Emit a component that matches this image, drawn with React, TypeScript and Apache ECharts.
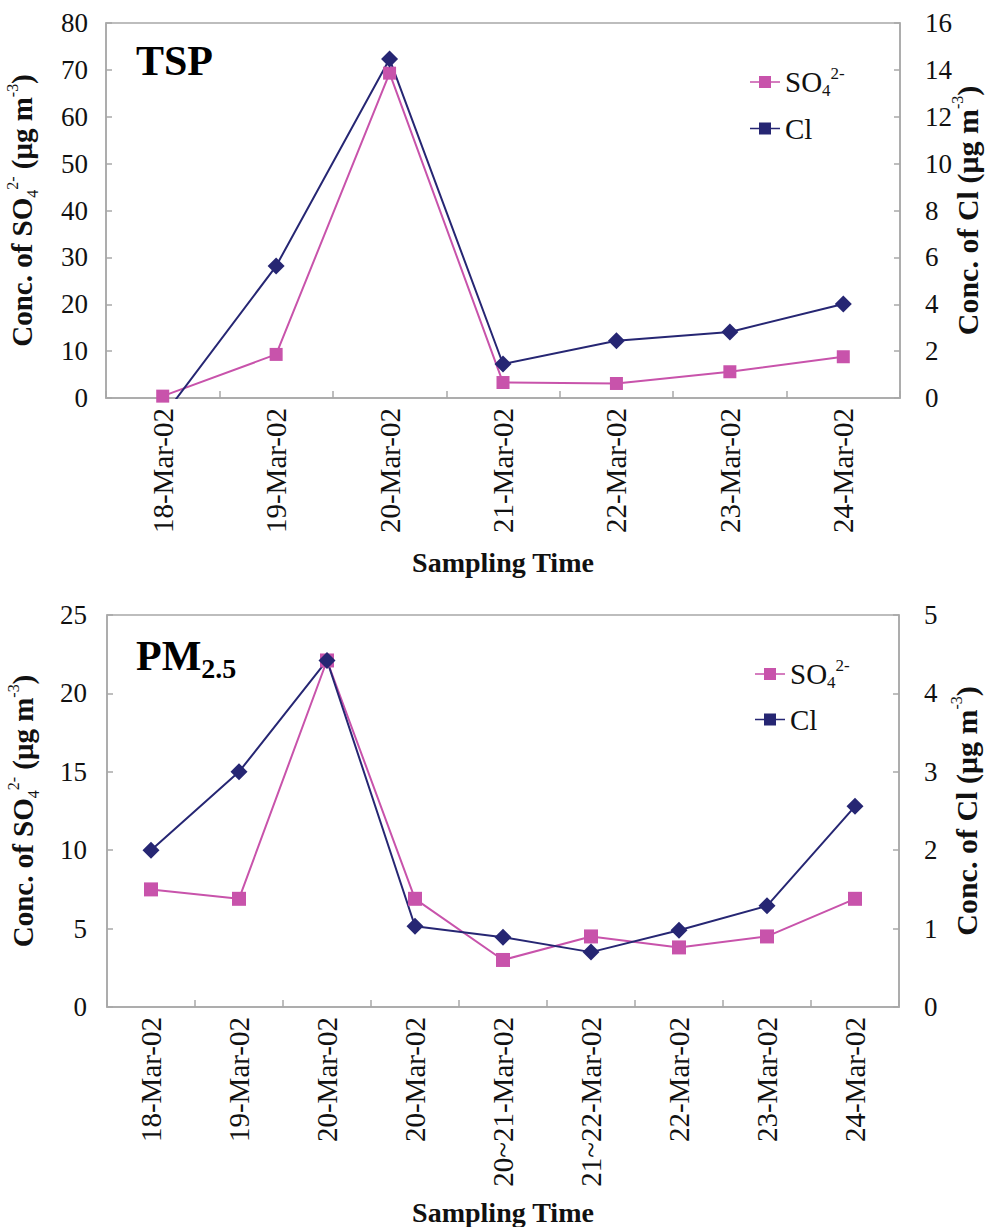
import React, { useEffect, useRef } from "react";
import * as echarts from "echarts";

const categoriesTSP = ["18-Mar-02", "19-Mar-02", "20-Mar-02", "21-Mar-02", "22-Mar-02", "23-Mar-02", "24-Mar-02"];
const so4TSP = [0.4, 9.3, 69.3, 3.3, 3.1, 5.6, 8.8];
const clTSP = [-0.8, 5.63, 14.46, 1.45, 2.44, 2.82, 4.01];

const categoriesPM = [
  "18-Mar-02", "19-Mar-02", "20-Mar-02", "20-Mar-02", "20~21-Mar-02",
  "21~22-Mar-02", "22-Mar-02", "23-Mar-02", "24-Mar-02",
];
const so4PM = [7.5, 6.9, 22.1, 6.9, 3.0, 4.5, 3.8, 4.5, 6.9];
const clPM = [2.0, 3.0, 4.42, 1.03, 0.89, 0.7, 0.98, 1.29, 2.56];

const tspLeftRange = [0, 80, 10];
const tspRightRange = [0, 16, 2];
const pmLeftRange = [0, 25, 5];
const pmRightRange = [0, 5, 1];

const FONT = "'Liberation Serif', 'Times New Roman', serif";
const C_SO4 = "#C853AB";
const C_CL = "#262673";
const GRAY = "#A8A8A8";
const TXT = "#111111";

const legendIcon = "path://M0,5.2h30v1.6h-30z M9,0h12v12h-12z";

function makeNameRich(size: number) {
  return {
    b: { fontFamily: FONT, fontSize: size, fontWeight: "bold", color: TXT, lineHeight: 36 },
    sub: { fontFamily: FONT, fontSize: 16, fontWeight: "normal", color: TXT, lineHeight: 16, verticalAlign: "bottom" },
    sup: { fontFamily: FONT, fontSize: 16, fontWeight: "normal", color: TXT, lineHeight: 16, verticalAlign: "top" },
  };
}

const legendRich = {
  t: { fontFamily: FONT, fontSize: 29, color: TXT, lineHeight: 34 },
  sub: { fontFamily: FONT, fontSize: 17, color: TXT, lineHeight: 17, verticalAlign: "bottom" },
  sup: { fontFamily: FONT, fontSize: 17, color: TXT, lineHeight: 17, verticalAlign: "top" },
};

function makeLegend(left: number, top: number, gap: number) {
  return {
    data: ["SO4", "Cl"],
    orient: "vertical",
    left,
    top,
    itemWidth: 30,
    itemHeight: 12,
    itemGap: gap,
    icon: legendIcon,
    selectedMode: false,
    formatter: (n: string) => (n === "SO4" ? "{t|SO}{sub|4}{sup|2-}" : "{t|Cl}"),
    textStyle: { fontFamily: FONT, fontSize: 29, color: TXT, rich: legendRich },
  };
}

function xAxis(gridIndex: number, data: string[], nameGap: number) {
  return {
    type: "category",
    gridIndex,
    data,
    boundaryGap: true,
    name: "Sampling Time",
    nameLocation: "middle",
    nameGap,
    nameMoveOverlap: false,
    nameTextStyle: { fontFamily: FONT, fontSize: 28, fontWeight: "bold", color: TXT },
    axisLine: { show: true, lineStyle: { color: GRAY, width: 1.5 } },
    axisTick: { show: true, inside: true, length: 7, alignWithLabel: false, interval: 0, lineStyle: { color: GRAY, width: 1.5 } },
    axisLabel: { interval: 0, rotate: 90, margin: 10, fontFamily: FONT, fontSize: 29, color: TXT },
    splitLine: { show: false },
  };
}

function yAxis(gridIndex: number, range: number[], position: string, name: string, nameGap: number, labelMargin: number, nameSize: number) {
  return {
    type: "value",
    gridIndex,
    position,
    min: range[0],
    max: range[1],
    interval: range[2],
    name,
    nameLocation: "middle",
    nameRotate: 90,
    nameGap,
    nameMoveOverlap: false,
    nameTextStyle: { fontFamily: FONT, fontSize: nameSize, fontWeight: "bold", color: TXT, rich: makeNameRich(nameSize) },
    axisLine: { show: true, lineStyle: { color: GRAY, width: 1.5 } },
    axisTick: { show: true, inside: true, length: 6, lineStyle: { color: GRAY, width: 1.5 } },
    axisLabel: { margin: labelMargin, fontFamily: FONT, fontSize: 27, color: TXT },
    splitLine: { show: false },
  };
}

function lineSeries(name: string, data: number[], xAxisIndex: number, yAxisIndex: number, color: string, symbol: string, size: number) {
  return {
    type: "line",
    name,
    data,
    xAxisIndex,
    yAxisIndex,
    color,
    symbol,
    symbolSize: size,
    showSymbol: true,
    clip: true,
    lineStyle: { color, width: 2 },
    itemStyle: { color, borderWidth: 0 },
    emphasis: { disabled: true },
  };
}

export default function App() {
  const ref = useRef<HTMLDivElement>(null);
  useEffect(() => {
    if (!ref.current) return;
    const chart = echarts.init(ref.current, null, { renderer: "svg" });
    const so4Name = "{b|Conc. of SO}{sub|4}{sup|2-}{b| (\u03bcg m}{sup|-3}{b|)}";
    const clName = "{b|Conc. of Cl (\u03bcg m}{sup|-3}{b|)}";
    chart.setOption({
      animation: false,
      backgroundColor: "#ffffff",
      title: [
        {
          text: "TSP",
          left: 131,
          top: 35,
          textStyle: { fontFamily: FONT, fontSize: 42, fontWeight: "bold", color: "#000" },
        },
        {
          text: "{a|PM}{b|2.5}",
          left: 131,
          top: 625,
          textStyle: {
            fontFamily: FONT,
            fontSize: 42,
            fontWeight: "bold",
            color: "#000",
            rich: {
              a: { fontFamily: FONT, fontSize: 42, fontWeight: "bold", color: "#000", lineHeight: 52 },
              b: { fontFamily: FONT, fontSize: 28, fontWeight: "bold", color: "#000", lineHeight: 28, verticalAlign: "bottom" },
            },
          },
        },
      ],
      legend: [makeLegend(745, 60, 15), makeLegend(750, 652, 14)],
      grid: [
        { left: 106, top: 23, width: 794, height: 375, show: true, borderColor: GRAY, borderWidth: 1.5, backgroundColor: "transparent", outerBoundsMode: "none" },
        { left: 107, top: 615, width: 792, height: 392, show: true, borderColor: GRAY, borderWidth: 1.5, backgroundColor: "transparent", outerBoundsMode: "none" },
      ],
      xAxis: [xAxis(0, categoriesTSP, 150), xAxis(1, categoriesPM, 191)],
      yAxis: [
        yAxis(0, tspLeftRange, "left", so4Name, 66, 18, 29),
        yAxis(0, tspRightRange, "right", clName, 49, 25, 30),
        yAxis(1, pmLeftRange, "left", so4Name, 66, 20, 29),
        yAxis(1, pmRightRange, "right", clName, 49, 25, 30),
      ],
      series: [
        lineSeries("SO4", so4TSP, 0, 0, C_SO4, "rect", 13),
        lineSeries("Cl", clTSP, 0, 1, C_CL, "diamond", 17),
        lineSeries("SO4", so4PM, 1, 2, C_SO4, "rect", 14),
        lineSeries("Cl", clPM, 1, 3, C_CL, "diamond", 17),
      ],
    });
    return () => chart.dispose();
  }, []);
  return (
    <div
      ref={ref}
      style={{ position: "fixed", left: 0, top: 0, width: 990, height: 1227, background: "#fff" }}
    />
  );
}
